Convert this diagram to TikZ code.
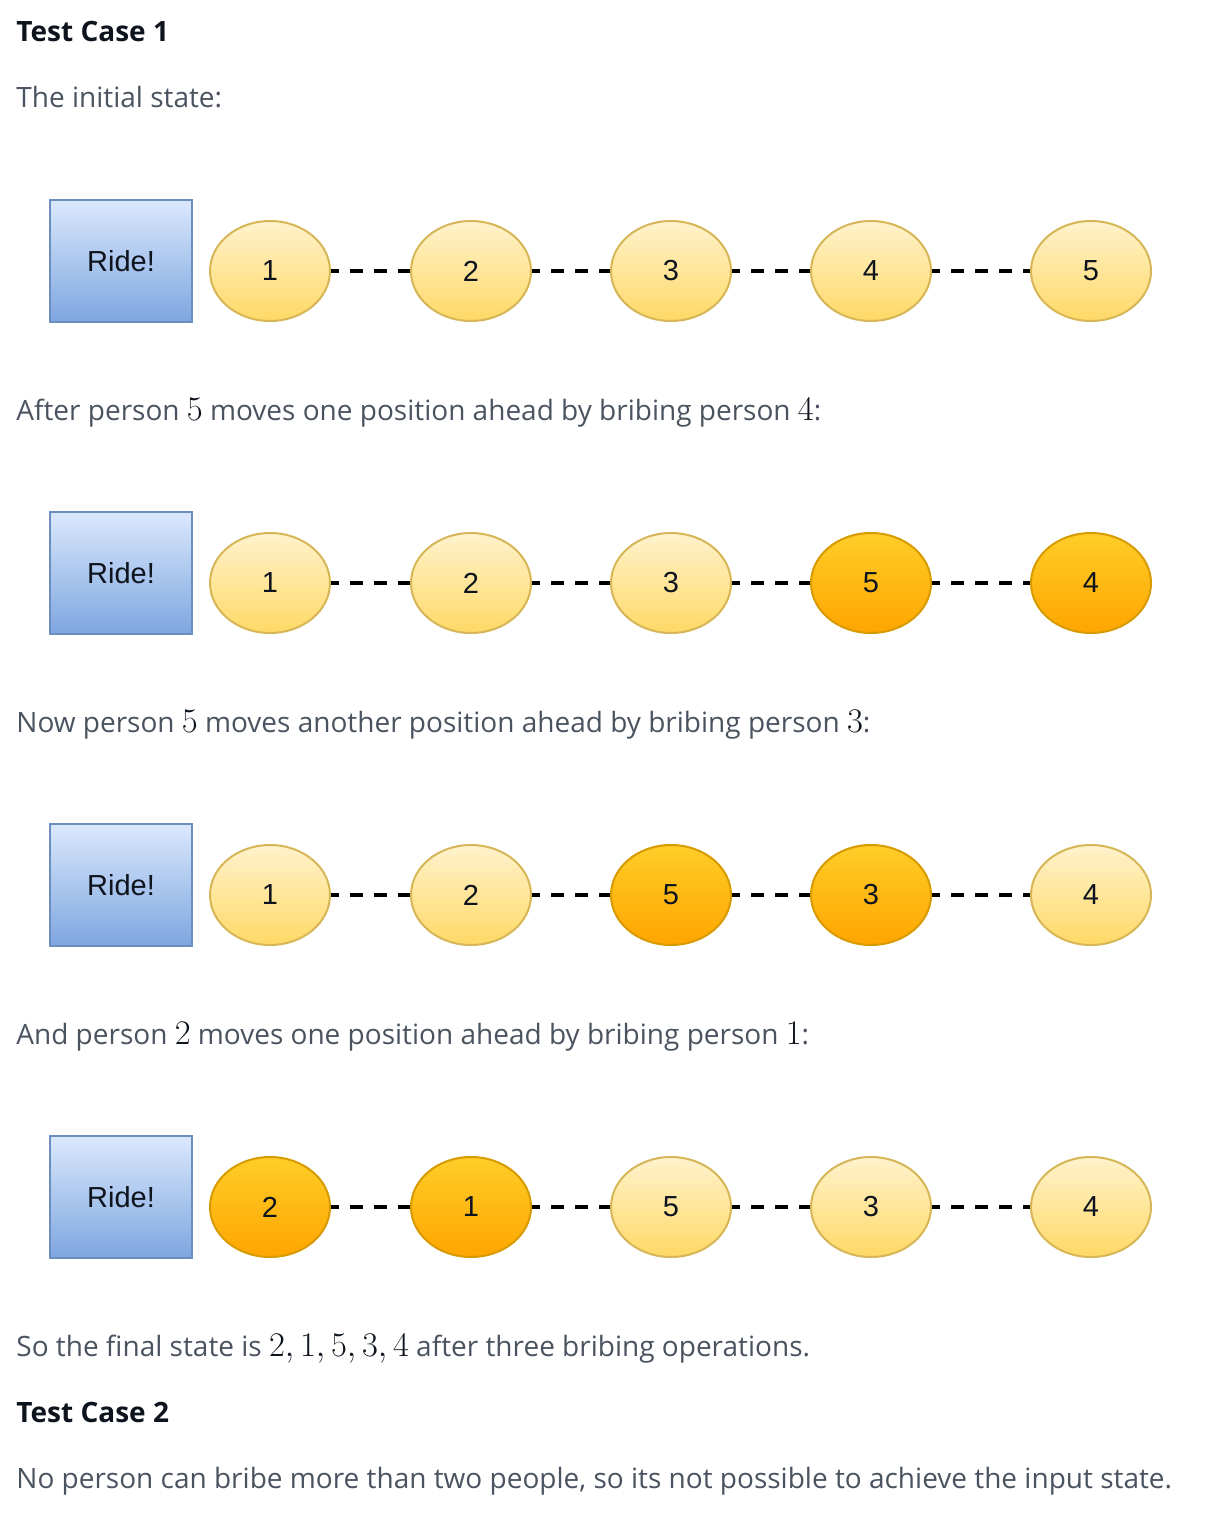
\documentclass[tikz,border=0pt]{standalone}
\usepackage{fontspec}
\setmainfont{Open Sans}
\newfontfamily\drawfont{Liberation Sans}
\usetikzlibrary{shapes.geometric}
\definecolor{textgray}{HTML}{4A5360}
\definecolor{headblack}{HTML}{0E141E}
\definecolor{rideline}{HTML}{6C8EBF}
\definecolor{ridetop}{HTML}{DAE8FC}
\definecolor{ridebot}{HTML}{7EA6E0}
\definecolor{persline}{HTML}{D6B656}
\definecolor{perstop}{HTML}{FFF2CC}
\definecolor{persbot}{HTML}{FFD966}
\definecolor{bribline}{HTML}{D79B00}
\definecolor{bribtop}{HTML}{FFCD28}
\definecolor{bribbot}{HTML}{FFA500}
\newcommand{\num}[1]{{\fontsize{17}{20}\selectfont\color{headblack}$#1$}}
\begin{document}
\begin{tikzpicture}[x=0.5pt, y=-0.5pt,
      txt/.style={anchor=base west,inner sep=0pt,text=textgray,font=\fontsize{14}{17}\selectfont},
      head/.style={txt,text=headblack,font=\fontsize{14}{17}\selectfont\bfseries},
      ride/.style={rectangle,draw=rideline,line width=1pt,top color=ridetop,bottom color=ridebot,minimum width=71pt,minimum height=61pt,text=headblack,font=\drawfont\fontsize{14.5}{16}\selectfont},
      pers/.style={ellipse,draw=persline,line width=1pt,top color=perstop,bottom color=persbot,minimum width=60pt,minimum height=50pt,inner sep=0pt,text=headblack,font=\drawfont\fontsize{14.5}{16}\selectfont},
      brib/.style={pers,draw=bribline,top color=bribtop,bottom color=bribbot},
      link/.style={line width=2pt,dash pattern=on 6.5pt off 5.5pt,dash phase=2.5pt}
    ]
      \useasboundingbox (0,0) rectangle (1224,1514);

      \node[head] (t1) at (16,42) {Test Case 1};
      \node[txt] (s0) at (16,108) {The initial state:};

      % initial row
      \node[ride] (ride1) at (121,261) {Ride!};
      \node[pers] (p1a) at (270,271) {1};
      \node[pers] (p1b) at (471,271) {2};
      \node[pers] (p1c) at (671,271) {3};
      \node[pers] (p1d) at (871,271) {4};
      \node[pers] (p1e) at (1091,271) {5};
      \draw[link] (p1a) -- (p1b); \draw[link] (p1b) -- (p1c); \draw[link] (p1c) -- (p1d); \draw[link] (p1d) -- (p1e);

      \node[txt] (s1) at (16,420) {After person \num{5} moves one position ahead by bribing person \num{4}:};

      % 5 bribes 4
      \node[ride] (ride2) at (121,573) {Ride!};
      \node[pers] (p2a) at (270,583) {1};
      \node[pers] (p2b) at (471,583) {2};
      \node[pers] (p2c) at (671,583) {3};
      \node[brib] (p2d) at (871,583) {5};
      \node[brib] (p2e) at (1091,583) {4};
      \draw[link] (p2a) -- (p2b); \draw[link] (p2b) -- (p2c); \draw[link] (p2c) -- (p2d); \draw[link] (p2d) -- (p2e);

      \node[txt] (s2) at (16,732) {Now person \num{5} moves another position ahead by bribing person \num{3}:};

      % 5 bribes 3
      \node[ride] (ride3) at (121,885) {Ride!};
      \node[pers] (p3a) at (270,895) {1};
      \node[pers] (p3b) at (471,895) {2};
      \node[brib] (p3c) at (671,895) {5};
      \node[brib] (p3d) at (871,895) {3};
      \node[pers] (p3e) at (1091,895) {4};
      \draw[link] (p3a) -- (p3b); \draw[link] (p3b) -- (p3c); \draw[link] (p3c) -- (p3d); \draw[link] (p3d) -- (p3e);

      \node[txt] (s3) at (16,1044) {And person \num{2} moves one position ahead by bribing person \num{1}:};

      % 2 bribes 1
      \node[ride] (ride4) at (121,1197) {Ride!};
      \node[brib] (p4a) at (270,1207) {2};
      \node[brib] (p4b) at (471,1207) {1};
      \node[pers] (p4c) at (671,1207) {5};
      \node[pers] (p4d) at (871,1207) {3};
      \node[pers] (p4e) at (1091,1207) {4};
      \draw[link] (p4a) -- (p4b); \draw[link] (p4b) -- (p4c); \draw[link] (p4c) -- (p4d); \draw[link] (p4d) -- (p4e);

      \node[txt] (s4) at (16,1356) {So the final state is \num{2,1,5,3,4} after three bribing operations.};
      \node[head] (t2) at (16,1422) {Test Case 2};
      \node[txt] (s5) at (16,1488) {No person can bribe more than two people, so its not possible to achieve the input state.};
    \end{tikzpicture}
\end{document}
